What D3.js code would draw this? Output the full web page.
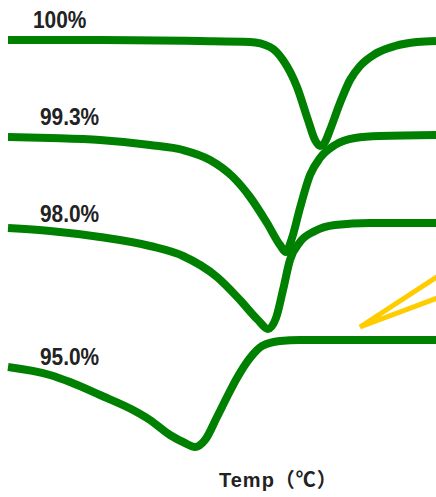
<!DOCTYPE html>
<html>
<head>
<meta charset="utf-8">
<script src="https://cdn.jsdelivr.net/npm/d3@7"></script>
<style>
  body { margin: 0; background: #fff; }
  svg { display: block; }
</style>
</head>
<body>
<div id="chart"></div>
<script>
// DSC curves, temperature in arbitrary units, heat flow offset per curve
var width = 436,
    height = 497;

var labels = ["100%", "99.3%", "98.0%", "95.0%"];

var temp100 = [25, 48, 73, 85.5, 90.5, 93.75, 97.25, 100, 101.75, 103, 104.25, 105.5, 108, 110.5, 113, 116.75, 121.75, 127.25, 132];
var flow100 = [46.0, 46.0, 45.9, 45.8, 45.3, 44.0, 41.3, 38.0, 36.0, 35.4, 35.8, 37.0, 39.7, 42.0, 43.4, 44.6, 45.4, 45.8, 45.9];

var temp993 = [25, 35.5, 48, 60.5, 68.75, 75.5, 81.25, 85.5, 89.75, 93, 94.5, 96, 98, 100.5, 103, 106.75, 111.75, 118, 132];
var flow993 = [36.3, 36.2, 36.0, 35.5, 35.0, 34.0, 32.3, 30.3, 27.7, 25.5, 24.8, 26.2, 29.2, 32.5, 34.2, 35.5, 36.2, 36.4, 36.5];

var temp980 = [25, 35.5, 48, 60.5, 68.75, 77.25, 83, 87.5, 90, 92, 93.75, 95.5, 98, 101.75, 106.75, 115.5, 132];
var flow980 = [27.2, 26.9, 26.3, 25.4, 24.4, 22.3, 20.0, 18.0, 17.1, 18.2, 21.0, 24.0, 25.8, 26.9, 27.5, 27.7, 27.7];

var temp950 = [25, 35.5, 40.5, 48, 56.25, 60.5, 65.5, 69.25, 71.75, 74.25, 77.25, 79.75, 82.25, 85.5, 88.5, 93, 98, 132];
var flow950 = [13.3, 12.5, 11.8, 10.5, 9.0, 8.0, 6.5, 5.7, 5.3, 6.0, 8.3, 10.3, 12.2, 14.2, 15.4, 15.9, 16.0, 16.0];

// tangent lines (onset) on the 95.0% curve
var tangentTemp = [133, 113, 133];
var tangentFlow = [22.5, 17.3, 20.3];

// label anchors (temperature, flow)
var labelTemp = [31.25, 33, 33, 33];
var labelFlow = [47.2, 37.5, 27.8, 13.5];

var axisTitle = "Temp（℃）";

var x = d3.scaleLinear().domain([25, 132]).range([8, 436]);
var y = d3.scaleLinear().domain([0, 50]).range([500, 0]);

var svg = d3.select("#chart").append("svg")
  .attr("width", width)
  .attr("height", height);

var series = [
  {t: temp100, f: flow100},
  {t: temp993, f: flow993},
  {t: temp980, f: flow980},
  {t: temp950, f: flow950}
];

var line = d3.line()
  .curve(d3.curveMonotoneX)
  .x(function(d) { return x(d[0]); })
  .y(function(d) { return y(d[1]); });

// tangents first, curves on top
svg.append("path")
  .datum(d3.zip(tangentTemp, tangentFlow))
  .attr("d", d3.line().x(function(d) { return x(d[0]); }).y(function(d) { return y(d[1]); }))
  .style("fill", "none")
  .style("stroke", "#ffcc00")
  .style("stroke-width", 5)
  .style("stroke-linejoin", "miter");

svg.selectAll("path.dsc")
  .data(series)
  .enter()
  .append("path")
  .attr("class", "dsc")
  .attr("d", function(s) { return line(d3.zip(s.t, s.f)); })
  .style("fill", "none")
  .style("stroke", "#008000")
  .style("stroke-width", 8)
  .style("stroke-linejoin", "round");

// labels are a tall, narrow bold face in the original
svg.selectAll("text.lbl")
  .data(labels)
  .enter()
  .append("text")
  .attr("class", "lbl")
  .attr("transform", function(d, i) {
    return "translate(" + x(labelTemp[i]) + "," + y(labelFlow[i]) + ") scale(0.87,1)";
  })
  .style("font", "bold 24px 'Liberation Sans', Arial, sans-serif")
  .style("fill", "#222")
  .text(function(d) { return d; });

svg.append("text")
  .attr("x", 219)
  .attr("y", 487)
  .style("font", "bold 20px 'Liberation Sans', 'Noto Sans CJK JP', sans-serif")
  .style("letter-spacing", "1px")
  .style("fill", "#222")
  .text(axisTitle);
</script>
</body>
</html>
